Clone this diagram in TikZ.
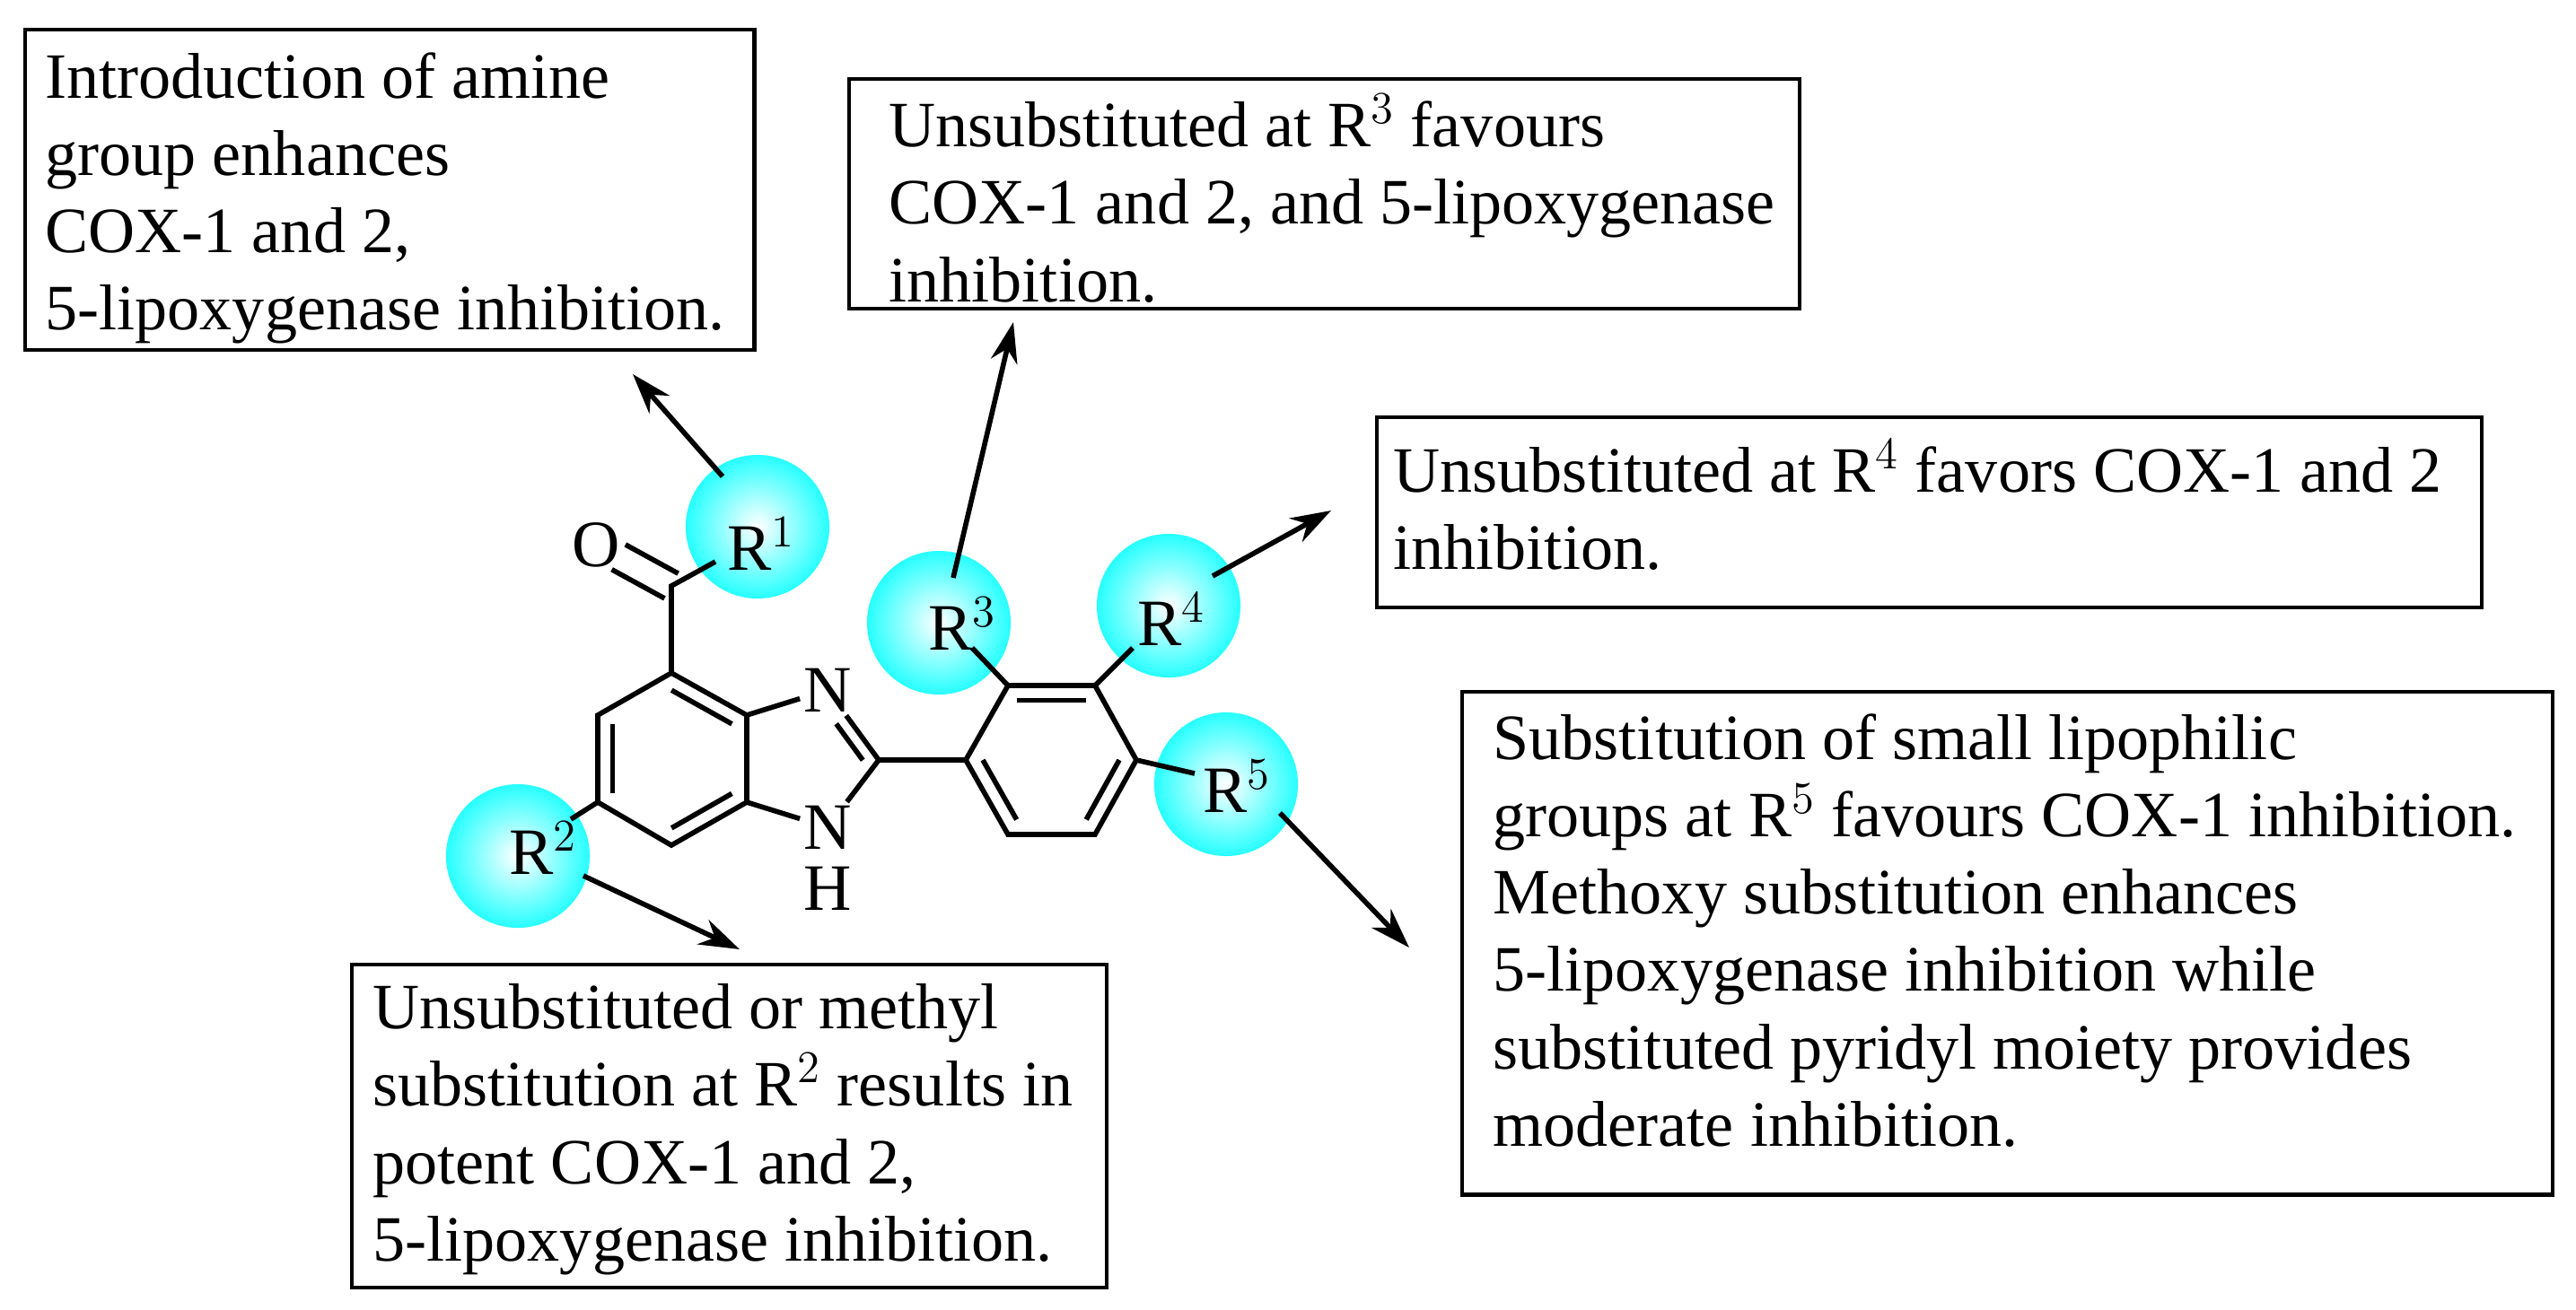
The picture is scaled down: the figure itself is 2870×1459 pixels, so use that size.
\documentclass[tikz,border=0pt]{standalone}
\usepackage{fontspec}
\setmainfont{Liberation Serif}
\usetikzlibrary{calc,arrows.meta}
\begin{document}
\begin{tikzpicture}[x=0.01cm,y=-0.01cm,
  box/.style={draw,line width=1.2pt,inner sep=0pt,anchor=north west},
  txt/.style={anchor=north west,font=\fontsize{20.5}{24.5}\selectfont,align=left,inner sep=0pt},
  bond/.style={line width=1.6pt},
  atom/.style={inner sep=1pt,font=\fontsize{21}{22}\selectfont},
  ball/.style={circle,minimum size=1.6cm,inner sep=0pt,shading=radial,inner color=white,outer color=cyan!85!white},
  rlab/.style={font=\fontsize{21}{22}\selectfont,inner sep=0pt},
  arr/.style={line width=1.6pt,-{Stealth[length=0.45cm,width=0.3cm]}}]
\useasboundingbox (0,0) rectangle (2870,1459);
% boxes
\node[box,minimum width=8.12cm,minimum height=3.57cm] (b1) at (26,31) {};
\node[txt] (t1) at (50,58) {Introduction of amine\\group enhances\\COX-1 and 2,\\5-lipoxygenase inhibition.};
\node[box,minimum width=10.58cm,minimum height=2.56cm] (b2) at (944,86) {};
\node[txt] (t2) at (990,104) {Unsubstituted at R$^3$ favours\\COX-1 and 2, and 5-lipoxygenase\\inhibition.};
\node[box,minimum width=12.3cm,minimum height=2.12cm] (b3) at (1532,463) {};
\node[txt] (t3) at (1552,489) {Unsubstituted at R$^4$ favors COX-1 and 2\\inhibition.};
\node[box,minimum width=12.14cm,minimum height=5.6cm] (b4) at (1627,769) {};
\node[txt] (t4) at (1663,795) {Substitution of small lipophilic\\groups at R$^5$ favours COX-1 inhibition.\\Methoxy substitution enhances\\5-lipoxygenase inhibition while\\substituted pyridyl moiety provides\\moderate inhibition.};
\node[box,minimum width=8.4cm,minimum height=3.6cm] (b5) at (390,1073) {};
\node[txt] (t5) at (415,1096) {Unsubstituted or methyl\\substitution at R$^2$ results in\\potent COX-1 and 2,\\5-lipoxygenase inhibition.};
% balls
\node[ball] (B1) at (844,587) {};
\node[ball] (B2) at (577,954) {};
\node[ball] (B3) at (1046,694) {};
\node[ball] (B4) at (1302,675) {};
\node[ball] (B5) at (1366,874) {};
\node[rlab] (R1) at (848,606) {R$^1$};
\node[rlab] (R2) at (605,945) {R$^2$};
\node[rlab] (R3) at (1072,695) {R$^3$};
\node[rlab] (R4) at (1305,690) {R$^4$};
\node[rlab] (R5) at (1378,876) {R$^5$};
% atoms
\coordinate (C4) at (748,750);
\coordinate (C5) at (666,797);
\coordinate (C6) at (666,894);
\coordinate (C7) at (748,942);
\coordinate (C7a) at (832,894);
\coordinate (C3a) at (832,797);
\coordinate (C2) at (979,847);
\coordinate (Cc) at (748,653);
\coordinate (cen1) at (749,846);
\node[atom] (N3) at (922,769) {N};
\node[atom] (N1) at (922,922) {N};
\node[atom] (H1) at (922,990) {H};
\node[atom] (O) at (664,607) {O};
\coordinate (Oe) at ($(O)!0.3!(Cc)$);
\coordinate (P1) at (1076,847);
\coordinate (P2) at (1123,764);
\coordinate (P3) at (1220,764);
\coordinate (P4) at (1266,847);
\coordinate (P5) at (1220,930);
\coordinate (P6) at (1123,930);
\coordinate (cen2) at (1171,847);
\coordinate (e1) at (797,626);
\coordinate (e2) at (636,913);
\coordinate (e3) at (1083,722);
\coordinate (e4) at (1262,722);
\coordinate (e5) at (1331,862);
% bonds
\draw[bond] (C4)--(C5)--(C6)--(C7)--(C7a)--(C3a)--(C4);
\draw[bond] ($(C3a)!0.2!(cen1)$)--($(C4)!0.2!(cen1)$);
\draw[bond] ($(C5)!0.2!(cen1)$)--($(C6)!0.2!(cen1)$);
\draw[bond] ($(C7)!0.2!(cen1)$)--($(C7a)!0.2!(cen1)$);
\draw[bond] (C3a)--(N3)--(C2)--(N1)--(C7a);
\draw[bond] ($(N3)!0.38!(C2)+(-12,8)$)--($(N3)!0.9!(C2)+(-12,8)$);
\draw[bond] (C4)--(Cc)--(e1);
\draw[bond] (C6)--(e2);
\draw[bond] ($(Cc)!4.5pt!90:(Oe)$)--($(Oe)!4.5pt!-90:(Cc)$);
\draw[bond] ($(Cc)!4.5pt!-90:(Oe)$)--($(Oe)!4.5pt!90:(Cc)$);
\draw[bond] (C2)--(P1)--(P2)--(P3)--(P4)--(P5)--(P6)--(P1);
\draw[bond] ($(P2)!0.2!(cen2)$)--($(P3)!0.2!(cen2)$);
\draw[bond] ($(P1)!0.2!(cen2)$)--($(P6)!0.2!(cen2)$);
\draw[bond] ($(P4)!0.2!(cen2)$)--($(P5)!0.2!(cen2)$);
\draw[bond] (P2)--(e3);
\draw[bond] (P3)--(e4);
\draw[bond] (P4)--(e5);
% arrows
\coordinate (a1) at (805,531); \coordinate (a1t) at (705,417);
\coordinate (a3) at (1062,644); \coordinate (a3t) at (1129,359);
\coordinate (a4) at (1351,642); \coordinate (a4t) at (1483,569);
\coordinate (a2) at (650,976); \coordinate (a2t) at (824,1058);
\coordinate (a5) at (1426,906); \coordinate (a5t) at (1570,1056);
\draw[arr] (a1)--(a1t);
\draw[arr] (a3)--(a3t);
\draw[arr] (a4)--(a4t);
\draw[arr] (a2)--(a2t);
\draw[arr] (a5)--(a5t);
\end{tikzpicture}
\end{document}
